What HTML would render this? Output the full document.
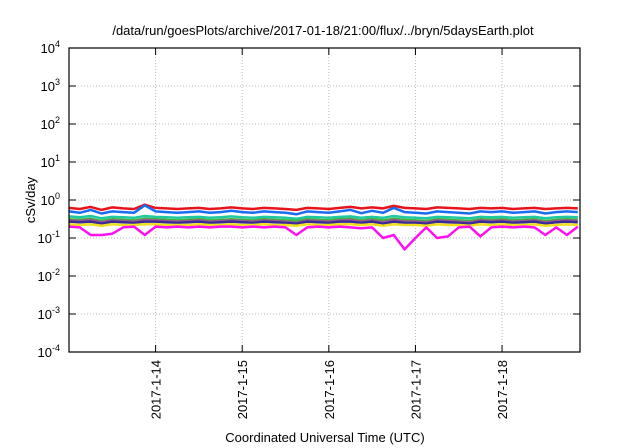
<!DOCTYPE html>
<html><head><meta charset="utf-8"><style>
body{margin:0;background:#fff;}
svg{display:block;font-family:"Liberation Sans",sans-serif;}
</style></head><body>
<svg id="c" width="640" height="448" viewBox="0 0 640 448"></svg>
<script>
const times=[13.000,13.125,13.250,13.375,13.500,13.625,13.750,13.875,14.000,14.125,14.250,14.375,14.500,14.625,14.750,14.875,15.000,15.125,15.250,15.375,15.500,15.625,15.750,15.875,16.000,16.125,16.250,16.375,16.500,16.625,16.750,16.875,17.000,17.125,17.250,17.375,17.500,17.625,17.750,17.875,18.000,18.125,18.250,18.375,18.500,18.625,18.750,18.875];
const seriesNames=["red","blue","teal","green","mauve","purple","yellow","magenta"];
const seriesColors=["#e8141c","#1a6cf0","#20c8a0","#3cb43c","#9a5a8a","#3a2a9a","#f0e020","#ff10f0"];
const red=[0.62,0.58,0.66,0.55,0.64,0.6,0.58,0.75,0.62,0.6,0.58,0.6,0.62,0.58,0.6,0.64,0.6,0.58,0.62,0.6,0.58,0.55,0.62,0.6,0.58,0.62,0.66,0.6,0.64,0.6,0.7,0.62,0.6,0.58,0.64,0.62,0.6,0.58,0.62,0.6,0.62,0.58,0.6,0.62,0.58,0.6,0.62,0.6];
const blue=[0.5,0.46,0.55,0.44,0.5,0.48,0.46,0.72,0.5,0.48,0.46,0.48,0.5,0.46,0.48,0.52,0.48,0.46,0.5,0.48,0.46,0.42,0.5,0.48,0.46,0.5,0.55,0.45,0.52,0.46,0.62,0.48,0.46,0.44,0.5,0.48,0.46,0.44,0.5,0.48,0.5,0.46,0.48,0.5,0.44,0.48,0.5,0.48];
const teal=[0.37,0.35,0.38,0.33,0.36,0.35,0.34,0.38,0.36,0.35,0.34,0.35,0.36,0.34,0.35,0.37,0.35,0.34,0.36,0.35,0.34,0.32,0.36,0.35,0.34,0.36,0.37,0.34,0.36,0.34,0.38,0.35,0.34,0.33,0.36,0.35,0.34,0.33,0.36,0.35,0.36,0.34,0.35,0.36,0.33,0.35,0.36,0.35];
const green=[0.31,0.3,0.32,0.28,0.31,0.3,0.29,0.32,0.31,0.3,0.29,0.3,0.31,0.29,0.3,0.31,0.3,0.29,0.31,0.3,0.29,0.28,0.31,0.3,0.29,0.31,0.32,0.29,0.31,0.29,0.32,0.3,0.29,0.28,0.31,0.3,0.29,0.28,0.31,0.3,0.31,0.29,0.3,0.31,0.28,0.3,0.31,0.3];
const mauve=[0.29,0.28,0.3,0.26,0.29,0.28,0.27,0.3,0.29,0.28,0.27,0.28,0.29,0.27,0.28,0.29,0.28,0.27,0.29,0.28,0.27,0.25,0.29,0.28,0.27,0.29,0.3,0.27,0.29,0.26,0.3,0.27,0.27,0.26,0.29,0.28,0.27,0.26,0.29,0.28,0.29,0.27,0.28,0.29,0.26,0.28,0.29,0.28];
const purple=[0.27,0.26,0.27,0.24,0.27,0.26,0.25,0.27,0.27,0.26,0.25,0.26,0.27,0.25,0.26,0.27,0.26,0.25,0.27,0.26,0.25,0.24,0.27,0.26,0.25,0.27,0.27,0.25,0.27,0.24,0.27,0.25,0.25,0.24,0.27,0.26,0.25,0.24,0.27,0.26,0.27,0.25,0.26,0.27,0.24,0.26,0.27,0.26];
const yellow=[0.23,0.22,0.23,0.21,0.23,0.22,0.22,0.23,0.23,0.22,0.22,0.22,0.23,0.22,0.22,0.23,0.22,0.22,0.23,0.22,0.22,0.21,0.23,0.22,0.22,0.23,0.23,0.22,0.23,0.21,0.23,0.22,0.22,0.21,0.23,0.22,0.22,0.21,0.23,0.22,0.23,0.22,0.22,0.23,0.21,0.22,0.23,0.22];
const magenta=[0.2,0.19,0.12,0.12,0.13,0.19,0.2,0.12,0.2,0.19,0.2,0.19,0.2,0.19,0.2,0.2,0.19,0.2,0.19,0.2,0.19,0.12,0.19,0.2,0.19,0.2,0.19,0.18,0.19,0.1,0.12,0.05,0.1,0.19,0.1,0.11,0.19,0.2,0.11,0.19,0.2,0.19,0.2,0.19,0.12,0.19,0.12,0.2];
const yTickExps=[-4,-3,-2,-1,0,1,2,3,4];
const xTickDays=[14,15,16,17,18];
const xTickLabels=["2017-1-14","2017-1-15","2017-1-16","2017-1-17","2017-1-18"];
const allSeries=[red,blue,teal,green,mauve,purple,yellow,magenta];

const L=69,R=580,T=48,B=352,x0=13.0,x1=18.9;
const X=t=>L+(t-x0)/(x1-x0)*(R-L);
const Y=v=>B-(Math.log10(v)+4)/8*(B-T);
const svg=document.getElementById('c');
const NS='http://www.w3.org/2000/svg';
function mk(tag,attrs,parent){const e=document.createElementNS(NS,tag);for(const k in attrs)e.setAttribute(k,attrs[k]);(parent||svg).appendChild(e);return e;}

const grid=mk('g',{});


yTickExps.forEach(p=>{
  const y=Y(Math.pow(10,p));
  if(p>-4&&p<4){const g=mk('line',{x1:L,x2:R,y1:y,y2:y,stroke:'#bbb','stroke-width':1,'stroke-dasharray':'1,2'},grid);
  
  }
  const tk=mk('path',{d:`M${L} ${y}h7M${R} ${y}h-7`,stroke:'#000','stroke-width':1});
  
  
  const t=mk('text',{x:60,y:y+5,'text-anchor':'end','font-size':13,fill:'#000'});
  
  
  t.innerHTML=`10<tspan dy="-6" font-size="9">${p}</tspan>`;
});
xTickDays.forEach((d,i)=>{
  const x=X(d);
  const g=mk('line',{x1:x,x2:x,y1:T,y2:B,stroke:'#bbb','stroke-width':1,'stroke-dasharray':'1,2'},grid);
  
  
  const tk=mk('path',{d:`M${x} ${B}v-7M${x} ${T}v7`,stroke:'#000','stroke-width':1});
  
  
  const t=mk('text',{x:x+5,y:360,'text-anchor':'end','font-size':13,fill:'#000',transform:`rotate(-90 ${x+5} 360)`});
  
  
  t.textContent=xTickLabels[i];
});
allSeries.forEach((s,si)=>{
  const d=s.map((v,i)=>(i?'L':'M')+X(times[i]).toFixed(1)+' '+Y(v).toFixed(1)).join('');
  const p=mk('path',{d:d,fill:'none',stroke:seriesColors[si],'stroke-width':2.5,'stroke-linejoin':'round'});
  
  
});
const fr=mk('rect',{x:L,y:T,width:R-L,height:B-T,fill:'none',stroke:'#000','stroke-width':1.2});


const ti=mk('text',{x:323,y:35,'text-anchor':'middle','font-size':13,fill:'#000'});


ti.textContent='/data/run/goesPlots/archive/2017-01-18/21:00/flux/../bryn/5daysEarth.plot';
const xt=mk('text',{x:325,y:442,'text-anchor':'middle','font-size':13,fill:'#000'});


xt.textContent='Coordinated Universal Time (UTC)';
const yt=mk('text',{x:35,y:200,'text-anchor':'middle','font-size':13,fill:'#000',transform:'rotate(-90 35 200)'});


yt.textContent='cSv/day';
</script>
</body></html>
